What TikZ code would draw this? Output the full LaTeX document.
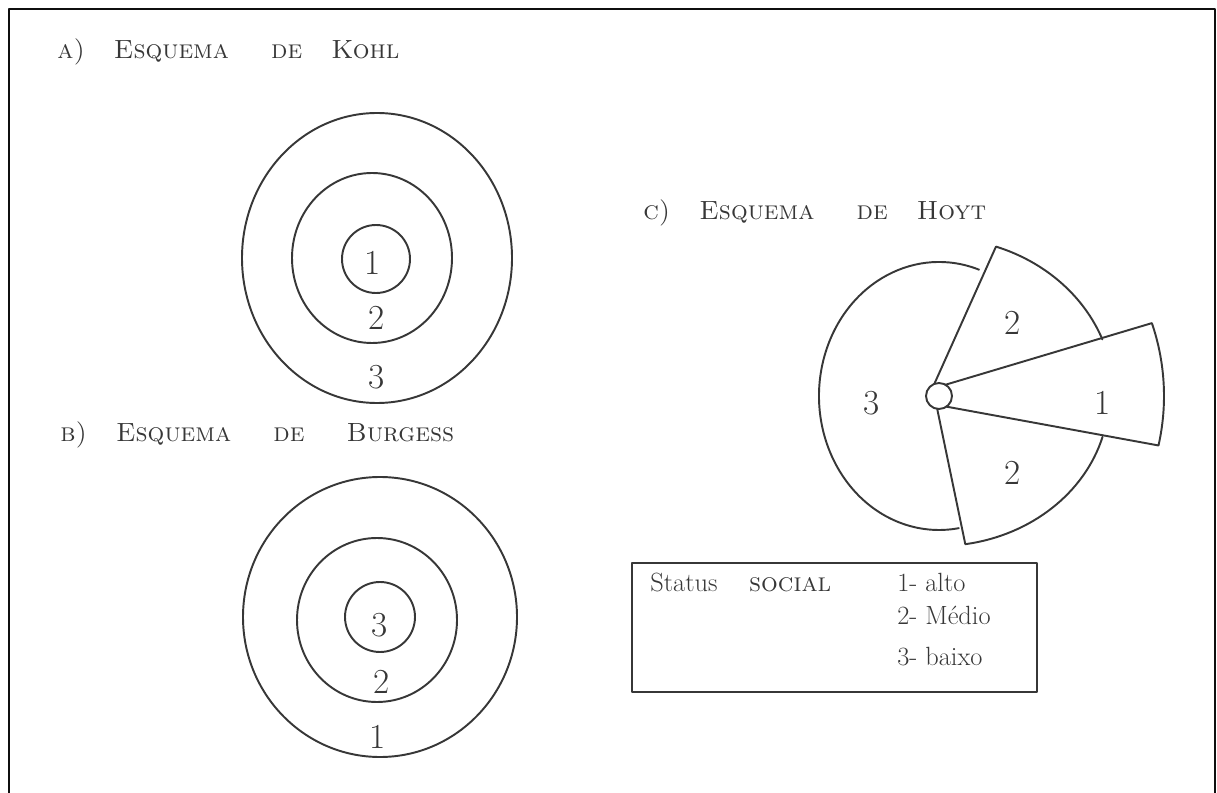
\documentclass[tikz,border=0pt]{standalone}
\usepackage{tikz}
\usetikzlibrary{calc}
\definecolor{sketch@ink}{RGB}{55,55,55}
\definecolor{sketch@frame}{RGB}{15,15,15}
\tikzset{
  sketch/.style={
    x=0.02cm, y=0.02cm,
    color=sketch@ink,
    line join=round, line cap=round
  },
  ring/.style={draw=sketch@ink, line width=1.1pt},   % hand drawn zone outline
  zone/.style={font=\fontsize{20}{24}\selectfont, text=sketch@ink, inner sep=0pt},
  heading/.style={font=\fontsize{15}{18}\selectfont\scshape, text=sketch@ink,
    anchor=west, inner sep=0pt},
  legend/.style={font=\fontsize{15}{18}\selectfont, text=sketch@ink,
    anchor=west, inner sep=0pt},
  sheet/.style={draw=sketch@frame, line width=1.6pt}
}

\begin{document}
\begin{tikzpicture}[sketch]
\useasboundingbox (0,0) rectangle (1217,792);
% Sheet border (open at the bottom)
\draw[sheet] (9,-5) -- (9,783) -- (1215,783) -- (1215,-5);

% a) Kohl
\node[heading] (kohlhead) at (57,740)
  {a)\hspace{1.1em}Esquema\hspace{1.6em}de\hspace{1.1em}Kohl};
\foreach \cx/\cy/\rx/\ry in {377/534/135/145, 372/534/80/85, 376/533/34/34}
  \draw[ring] (\cx,\cy) ellipse[x radius=\rx, y radius=\ry];
\node[zone] (kohlone)   at (373,529) {1};
\node[zone] (kohltwo)   at (377,474) {2};
\node[zone] (kohlthree) at (377,415) {3};

% b) Burgess
\node[heading] (burghead) at (60,357)
  {b)\hspace{1.1em}Esquema\hspace{1.6em}de\hspace{1.6em}Burgess};
\foreach \cx/\cy/\rx/\ry in {380/175/137/140, 377/172/80/82, 380/175/35/35}
  \draw[ring] (\cx,\cy) ellipse[x radius=\rx, y radius=\ry];
\node[zone] (burgthree) at (380,167) {3};
\node[zone] (burgtwo)   at (382,110) {2};
\node[zone] (burgone)   at (378,55)  {1};

% c) Hoyt
\node[heading] (hoythead) at (643,579)
  {c)\hspace{1.1em}Esquema\hspace{1.6em}de\hspace{1.1em}Hoyt};
\begin{scope}[shift={(939,396)}]
  \coordinate (hub) at (0,0);
  \draw[ring] (hub) circle[radius=13];
  % zone 3, the remaining disc
  \draw[ring] (70.5:120 and 134) arc[start angle=70.5, end angle=279.5, x radius=120, y radius=134];
  % upper sector 2
  \draw[ring] (111:13) -- (71:175 and 158)
    arc[start angle=71, end angle=21, x radius=175, y radius=158];
  % sector 1
  \draw[ring] (60:13) -- (18.9:225)
    arc[start angle=18.9, end angle=-12.7, radius=225] -- (-55:13);
  % lower sector 2
  \draw[ring] (-98:13) -- (-81.1:170 and 150)
    arc[start angle=-81.1, end angle=-15.8, x radius=170, y radius=150];
  \node[zone] (hoyttwoup)  at (74,73)  {2};
  \node[zone] (hoytone)    at (164,-7) {1};
  \node[zone] (hoyttwolow) at (74,-77) {2};
  \node[zone] (hoytthree)  at (-67,-7) {3};
\end{scope}

% Legend box
\draw[ring, line width=1.3pt] (632,100) rectangle (1037,229);
\node[legend] (status) at (650,210) {Status\hspace{1.2em}\textsc{social}};
\node[legend] (high)   at (897,210) {1- alto};
\node[legend] (middle) at (897,177) {2- Médio};
\node[legend] (low)    at (897,135) {3- baixo};
\end{tikzpicture}
\end{document}
